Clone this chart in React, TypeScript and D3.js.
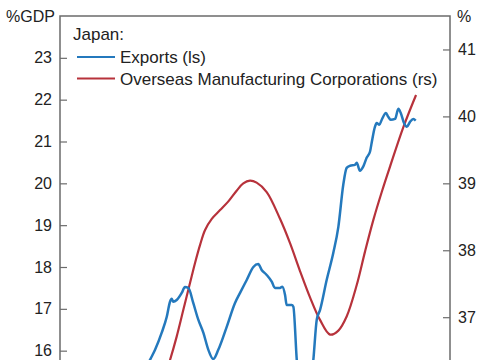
// react
import { useEffect, useRef } from "react";

// d3
import * as d3 from "d3";

// Japan: exports (%GDP, left scale)
const exportYears = [
  2004.0, 2004.8, 2005.54, 2005.85, 2006.26, 2006.57, 2006.77, 2006.87, 2006.97,
  2007.18, 2007.49, 2007.69, 2007.9, 2008.2, 2008.51, 2008.82, 2009.13, 2009.43,
  2009.74, 2010.26, 2010.77, 2011.08, 2011.49, 2011.9, 2012.2, 2012.41, 2012.72,
  2013.03, 2013.23, 2013.54, 2013.68, 2013.85, 2013.95, 2014.26, 2014.36, 2014.57,
  2014.77, 2015.08, 2015.38, 2015.59, 2015.8, 2016.0, 2016.41, 2016.82, 2017.13,
  2017.43, 2017.64, 2017.85, 2018.15, 2018.26, 2018.46, 2018.66, 2018.87, 2019.08,
  2019.18, 2019.38, 2019.49, 2019.65, 2019.8, 2020.06, 2020.2, 2020.35, 2020.62,
  2020.82, 2020.97, 2021.17, 2021.34, 2021.54, 2021.74, 2021.89,
];
const exportValues = [
  14.35, 15.18, 15.78, 16.02, 16.43, 16.81, 17.17, 17.24, 17.17,
  17.21, 17.38, 17.52, 17.5, 17.14, 16.74, 16.43, 16.02, 15.8,
  16.02, 16.57, 17.14, 17.38, 17.69, 18.0, 18.07, 17.93, 17.81,
  17.65, 17.5, 17.5, 17.53, 17.33, 17.09, 17.09, 17.05, 15.78,
  14.94, 14.7, 15.06, 15.78, 16.74, 16.97, 17.69, 18.34, 18.96,
  19.96, 20.37, 20.42, 20.44, 20.49, 20.3, 20.4, 20.61, 20.76,
  20.97, 21.35, 21.44, 21.4, 21.52, 21.68, 21.59, 21.52, 21.54,
  21.78, 21.68, 21.44, 21.35, 21.47, 21.54, 21.5,
];

// Japan: overseas manufacturing corporations (%, right scale)
const overseasYears = [
  2005.54, 2006.15, 2006.77, 2007.18, 2007.59, 2008.0, 2008.31, 2008.62, 2008.92,
  2009.34, 2009.85, 2010.36, 2010.87, 2011.28, 2011.69, 2012.1, 2012.72, 2013.54,
  2014.15, 2014.77, 2015.38, 2016.0, 2016.62, 2017.13, 2017.64, 2018.26, 2018.77,
  2019.28, 2019.8, 2020.31, 2021.13, 2021.91,
];
const overseasValues = [
  35.39, 35.89, 36.36, 36.71, 37.11, 37.51, 37.81, 38.08, 38.3,
  38.47, 38.6, 38.73, 38.89, 39.0, 39.04, 39.01, 38.87, 38.47,
  38.11, 37.69, 37.3, 36.96, 36.74, 36.8, 37.01, 37.48, 37.98,
  38.45, 38.87, 39.25, 39.84, 40.32,
];

// only the ticks that fall inside the visible window
const leftTicks = [16, 17, 18, 19, 20, 21, 22, 23];
const rightTicks = [37, 38, 39, 40, 41];

const legendTitle = "Japan:";
const seriesNames = ["Exports (ls)", "Overseas Manufacturing Corporations (rs)"];
const seriesColors = ["#2479bd", "#b7323b"];

const FONT = "'Liberation Sans', Arial, sans-serif";

export default function App() {
  // useRef
  const ref = useRef<SVGSVGElement>(null);

  // useEffect
  useEffect(() => {
    if (!ref.current) return;
    const svg = d3.select(ref.current);
    svg.selectAll("*").remove();

    const W = 485;
    const H = 360;
    const m = { top: 16, left: 60, right: 35 };
    const plotBottom = 518;

    svg.attr("width", W).attr("height", H).attr("viewBox", `0 0 ${W} ${H}`);

    const x = d3
      .scaleLinear()
      .domain([2000, 2024])
      .range([m.left, W - m.right]);
    const yL = d3.scaleLinear().domain([12, 24]).range([plotBottom, m.top]);
    const yR = d3.scaleLinear().domain([34, 41.5]).range([plotBottom, m.top]);

    const axisColor = "#6b6b6b";

    // Frame
    svg
      .append("rect")
      .attr("x", m.left)
      .attr("y", m.top)
      .attr("width", W - m.right - m.left)
      .attr("height", plotBottom - m.top)
      .attr("fill", "none")
      .attr("stroke", axisColor)
      .attr("stroke-width", 1.5);

    // Axes
    svg
      .append("g")
      .attr("transform", `translate(${m.left},0)`)
      .call(
        d3
          .axisLeft(yL)
          .tickValues(leftTicks)
          .tickSizeInner(-7)
          .tickSizeOuter(0)
          .tickPadding(8)
          .tickFormat(d3.format("d")),
      )
      .call((a) => {
        a.select(".domain").remove();
        a.selectAll("line").attr("stroke", axisColor).attr("stroke-width", 1.2);
        a.selectAll("text")
          .attr("font-size", 16)
          .attr("font-family", FONT)
          .attr("fill", "#222");
      });

    svg
      .append("g")
      .attr("transform", `translate(${W - m.right},0)`)
      .call(
        d3
          .axisRight(yR)
          .tickValues(rightTicks)
          .tickSizeInner(-7)
          .tickSizeOuter(0)
          .tickPadding(8)
          .tickFormat(d3.format("d")),
      )
      .call((a) => {
        a.select(".domain").remove();
        a.selectAll("line").attr("stroke", axisColor).attr("stroke-width", 1.2);
        a.selectAll("text")
          .attr("font-size", 16)
          .attr("font-family", FONT)
          .attr("fill", "#222");
      });

    // Units
    svg
      .append("text")
      .attr("x", m.left - 5)
      .attr("y", m.top)
      .attr("dy", "0.35em")
      .attr("text-anchor", "end")
      .attr("font-size", 16)
      .attr("font-family", FONT)
      .attr("fill", "#222")
      .text("%GDP");
    svg
      .append("text")
      .attr("x", W - m.right + 7)
      .attr("y", m.top)
      .attr("dy", "0.35em")
      .attr("font-size", 16)
      .attr("font-family", FONT)
      .attr("fill", "#222")
      .text("%");

    // Lines
    const exportData = exportYears.map((t, i) => [t, exportValues[i]] as [number, number]);
    const overseasData = overseasYears.map((t, i) => [t, overseasValues[i]] as [number, number]);

    const lineL = d3
      .line<[number, number]>()
      .x((d) => x(d[0]))
      .y((d) => yL(d[1]))
      .curve(d3.curveMonotoneX);
    const lineR = d3
      .line<[number, number]>()
      .x((d) => x(d[0]))
      .y((d) => yR(d[1]))
      .curve(d3.curveCatmullRom.alpha(0.5));

    svg
      .append("path")
      .attr("d", lineR(overseasData))
      .attr("fill", "none")
      .attr("stroke", seriesColors[1])
      .attr("stroke-width", 2.2);
    svg
      .append("path")
      .attr("d", lineL(exportData))
      .attr("fill", "none")
      .attr("stroke", seriesColors[0])
      .attr("stroke-width", 2.5)
      .attr("stroke-linejoin", "round");

    // Legend
    const lg = svg.append("g").attr("font-family", FONT).attr("font-size", 17);
    lg.append("text").attr("x", 73).attr("y", 40).attr("fill", "#222").text(legendTitle);
    seriesNames.forEach((name, i) => {
      const cy = 57 + i * 21.5;
      lg.append("line")
        .attr("x1", 77)
        .attr("x2", 115)
        .attr("y1", cy)
        .attr("y2", cy)
        .attr("stroke", seriesColors[i])
        .attr("stroke-width", 2.2);
      lg.append("text")
        .attr("x", 120)
        .attr("y", cy)
        .attr("dy", "0.36em")
        .attr("fill", "#222")
        .text(name);
    });
  }, []);

  return (
    <div style={{ position: "fixed", top: 0, left: 0, width: 485, height: 360, overflow: "hidden", background: "#fff" }}>
      <svg ref={ref} style={{ display: "block" }} />
    </div>
  );
}
